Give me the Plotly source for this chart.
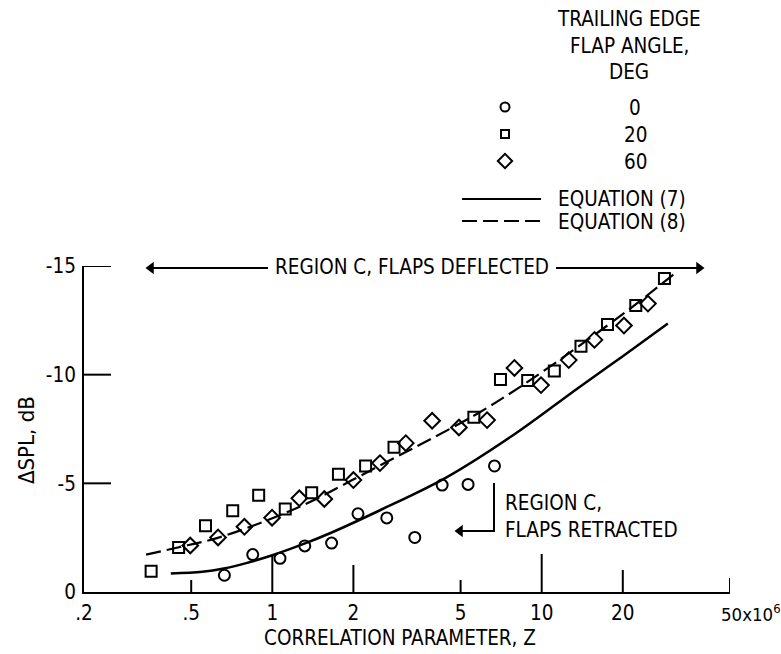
import plotly.graph_objects as go
import numpy as np

# ---------------- data ----------------
circ_z = [0.664, 0.846, 1.068, 1.32, 1.66, 2.08, 2.66, 3.38, 4.27, 5.33, 6.68]
circ_dspl = [-0.77, -1.72, -1.55, -2.12, -2.25, -3.60, -3.41, -2.51, -4.92, -4.95, -5.80]

sq_z = [0.355, 0.449, 0.565, 0.713, 0.89, 1.117, 1.40, 1.76, 2.22, 2.83,
        5.6, 7.03, 8.87, 11.14, 13.99, 17.55, 22.35, 28.55]
sq_dspl = [-0.96, -2.05, -3.05, -3.74, -4.45, -3.82, -4.57, -5.42, -5.80, -6.66,
           -8.04, -9.78, -9.73, -10.17, -11.31, -12.31, -13.18, -14.42]

dia_z = [0.496, 0.629, 0.788, 0.998, 1.26, 1.56, 2.0, 2.51, 3.13, 3.92, 4.93,
         6.27, 7.92, 9.94, 12.6, 15.7, 20.2, 24.8]
dia_dspl = [-2.14, -2.51, -3.0, -3.42, -4.31, -4.28, -5.15, -5.93, -6.85, -7.88, -7.57,
            -7.91, -10.31, -9.52, -10.67, -11.60, -12.26, -13.27]

eq7_z = [0.42, 0.55, 0.66, 0.8, 1.0, 1.3, 1.67, 2.5, 4.4, 7.8, 13.7, 20.0, 29.4]
eq7_dspl = [-0.85, -0.93, -1.08, -1.33, -1.69, -2.2, -2.75, -3.75, -5.25, -7.2, -9.4, -10.85, -12.35]

eq8_z = [0.34, 0.446, 0.627, 1.0, 1.41, 1.98, 2.87, 3.5, 5.85, 8.7, 13.7, 21.6, 30.8]
eq8_dspl = [-1.72, -2.05, -2.49, -3.39, -4.2, -5.15, -6.2, -6.75, -8.25, -9.6,
            -11.3, -13.1, -14.6]

x_tickvals = [0.2, 0.5, 1, 2, 5, 10, 20]
x_ticktext = [".2", ".5", "1", "2", "5", "10", "20"]
y_tickvals = [0, -5, -10, -15]
y_ticktext = ["0", "-5", "-10", "-15"]

legend_angles = ["0", "20", "60"]

# ---------------- styling / layout ----------------
W, H = 781, 654
FONT = "Liberation Sans Narrow, DejaVu Sans Condensed, sans-serif"
INK = "black"
FS = 20.5
# main plot area in pixels
PX_L, PX_R, PX_T, PX_B = 84, 730, 266, 592

# inner tick marks (lengths in px)
x_tick_len = {0.5: 12, 1: 37, 2: 27, 5: 12, 10: 38, 20: 22, 50: 14}
y_tick_len = {-5: 27, -10: 27, -15: 27}

fig = go.Figure()

mk = dict(color="rgba(0,0,0,0)", line=dict(color=INK, width=2))

fig.add_trace(go.Scatter(x=eq7_z, y=eq7_dspl, mode="lines",
                         line=dict(color=INK, width=2.5, shape="spline", smoothing=1.0),
                         showlegend=False, cliponaxis=False))
fig.add_trace(go.Scatter(x=eq8_z, y=eq8_dspl, mode="lines",
                         line=dict(color=INK, width=2.2, dash="15px,6px", shape="spline", smoothing=1.0),
                         showlegend=False, cliponaxis=False))
fig.add_trace(go.Scatter(x=circ_z, y=circ_dspl, mode="markers",
                         marker=dict(symbol="circle", size=11, **mk), showlegend=False, cliponaxis=False))
fig.add_trace(go.Scatter(x=sq_z, y=sq_dspl, mode="markers",
                         marker=dict(symbol="square", size=11, **mk), showlegend=False, cliponaxis=False))
fig.add_trace(go.Scatter(x=dia_z, y=dia_dspl, mode="markers",
                         marker=dict(symbol="diamond", size=12, **mk), showlegend=False, cliponaxis=False))

# legend (drawn in a full-page pixel overlay subplot)
leg_sym = ["circle", "square", "diamond"]
leg_sz = [9, 8, 11]
leg_y = [107, 134, 161]
for s, sz, yy in zip(leg_sym, leg_sz, leg_y):
    fig.add_trace(go.Scatter(x=[505], y=[yy], mode="markers", xaxis="x2", yaxis="y2",
                             marker=dict(symbol=s, size=sz, color="rgba(0,0,0,0)", line=dict(color=INK, width=2)),
                             showlegend=False, cliponaxis=False))
fig.add_trace(go.Scatter(x=[462, 541], y=[199, 199], mode="lines", xaxis="x2", yaxis="y2",
                         line=dict(color=INK, width=2.2), showlegend=False))
fig.add_trace(go.Scatter(x=[462, 541], y=[221, 221], mode="lines", xaxis="x2", yaxis="y2",
                         line=dict(color=INK, width=2.2, dash="15px,6px"), showlegend=False))

# arrow heads (decoration)
fig.add_trace(go.Scatter(x=[151, 460], y=[268, 531], mode="markers", xaxis="x2", yaxis="y2",
                         marker=dict(symbol="triangle-left", size=11, color=INK, line=dict(width=0)),
                         showlegend=False, cliponaxis=False))
fig.add_trace(go.Scatter(x=[699], y=[268], mode="markers", xaxis="x2", yaxis="y2",
                         marker=dict(symbol="triangle-right", size=11, color=INK, line=dict(width=0)),
                         showlegend=False, cliponaxis=False))

shapes = []
for v, L in x_tick_len.items():
    shapes.append(dict(type="line", xref="x", yref="y domain", ysizemode="pixel", yanchor=0,
                       x0=v, x1=v, y0=0, y1=L, line=dict(color=INK, width=2)))
for v, L in y_tick_len.items():
    shapes.append(dict(type="line", yref="y", xref="x domain", xsizemode="pixel", xanchor=0,
                       y0=v, y1=v, x0=0, x1=L, line=dict(color=INK, width=2)))
line_kw = dict(type="line", xref="x2", yref="y2", line=dict(color=INK, width=2))
shapes.append(dict(x0=153, x1=268, y0=268, y1=268, **line_kw))
shapes.append(dict(x0=556, x1=697, y0=268, y1=268, **line_kw))
shapes.append(dict(x0=494, x1=494, y0=483, y1=531, **line_kw))
shapes.append(dict(x0=462, x1=495, y0=531, y1=531, **line_kw))

ann = []
tf = dict(family=FONT, size=FS, color=INK)
# legend title and labels
for i, t in enumerate(["TRAILING EDGE", "FLAP ANGLE,", "DEG"]):
    ann.append(dict(x=629, y=19 + 26.5 * i, xref="x2", yref="y2", text=t, showarrow=False, font=tf,
                    xanchor="center", yanchor="middle"))
for t, yy in zip(legend_angles, leg_y):
    ann.append(dict(x=635, y=yy + 1, xref="x2", yref="y2", text=t, showarrow=False, font=tf,
                    xanchor="center", yanchor="middle"))
ann.append(dict(x=556, y=199, xref="x2", yref="y2", text="EQUATION (7)", showarrow=False, font=tf,
                xanchor="left", yanchor="middle"))
ann.append(dict(x=556, y=222, xref="x2", yref="y2", text="EQUATION (8)", showarrow=False, font=tf,
                xanchor="left", yanchor="middle"))
# region labels
ann.append(dict(x=412, y=267, xref="x2", yref="y2", text="REGION C, FLAPS DEFLECTED", showarrow=False,
                font=tf, xanchor="center", yanchor="middle"))
ann.append(dict(x=503, y=503, xref="x2", yref="y2", text="REGION C,", showarrow=False,
                font=tf, xanchor="left", yanchor="middle"))
ann.append(dict(x=503, y=530, xref="x2", yref="y2", text="FLAPS RETRACTED", showarrow=False,
                font=tf, xanchor="left", yanchor="middle"))
# axis titles
ann.append(dict(x=400, y=638, xref="x2", yref="y2", text="CORRELATION PARAMETER, Z", showarrow=False,
                font=tf, xanchor="center", yanchor="middle"))
ann.append(dict(x=26, y=440, xref="x2", yref="y2", text="ΔSPL, dB", showarrow=False, textangle=-90,
                font=dict(family=FONT, size=22, color=INK), xanchor="center", yanchor="middle"))
ann.append(dict(x=np.log10(50), y=0, xref="x", yref="y domain", text="50x10<sup>6</sup>", showarrow=False,
                font=dict(family=FONT, size=18.5, color=INK), xanchor="left", yanchor="top", xshift=-11, yshift=-7))

fig.update_layout(
    width=W, height=H,
    margin=dict(l=0, r=0, t=0, b=0, autoexpand=False),
    paper_bgcolor="white", plot_bgcolor="rgba(0,0,0,0)",
    font=dict(family=FONT, color=INK, size=FS),
    xaxis=dict(type="log", range=[np.log10(0.2), np.log10(50)],
               domain=[PX_L / W, PX_R / W], anchor="y", automargin=False,
               showgrid=False, zeroline=False, showline=True, linecolor=INK, linewidth=2,
               ticks="", tickvals=x_tickvals, ticktext=x_ticktext, ticklabelstandoff=1,
               tickfont=dict(family=FONT, size=FS, color=INK)),
    yaxis=dict(range=[0, -15], domain=[(H - PX_B) / H, (H - PX_T) / H], anchor="x", automargin=False,
               showgrid=False, zeroline=False, showline=True, linecolor=INK, linewidth=2,
               ticks="", tickvals=y_tickvals, ticktext=y_ticktext, ticklabelstandoff=2,
               tickfont=dict(family=FONT, size=FS, color=INK)),
    xaxis2=dict(domain=[0, 1], range=[0, W], visible=False, anchor="y2", automargin=False),
    yaxis2=dict(domain=[0, 1], range=[H, 0], visible=False, anchor="x2", automargin=False),
    shapes=shapes, annotations=ann,
)

fig.write_html("out.html")
